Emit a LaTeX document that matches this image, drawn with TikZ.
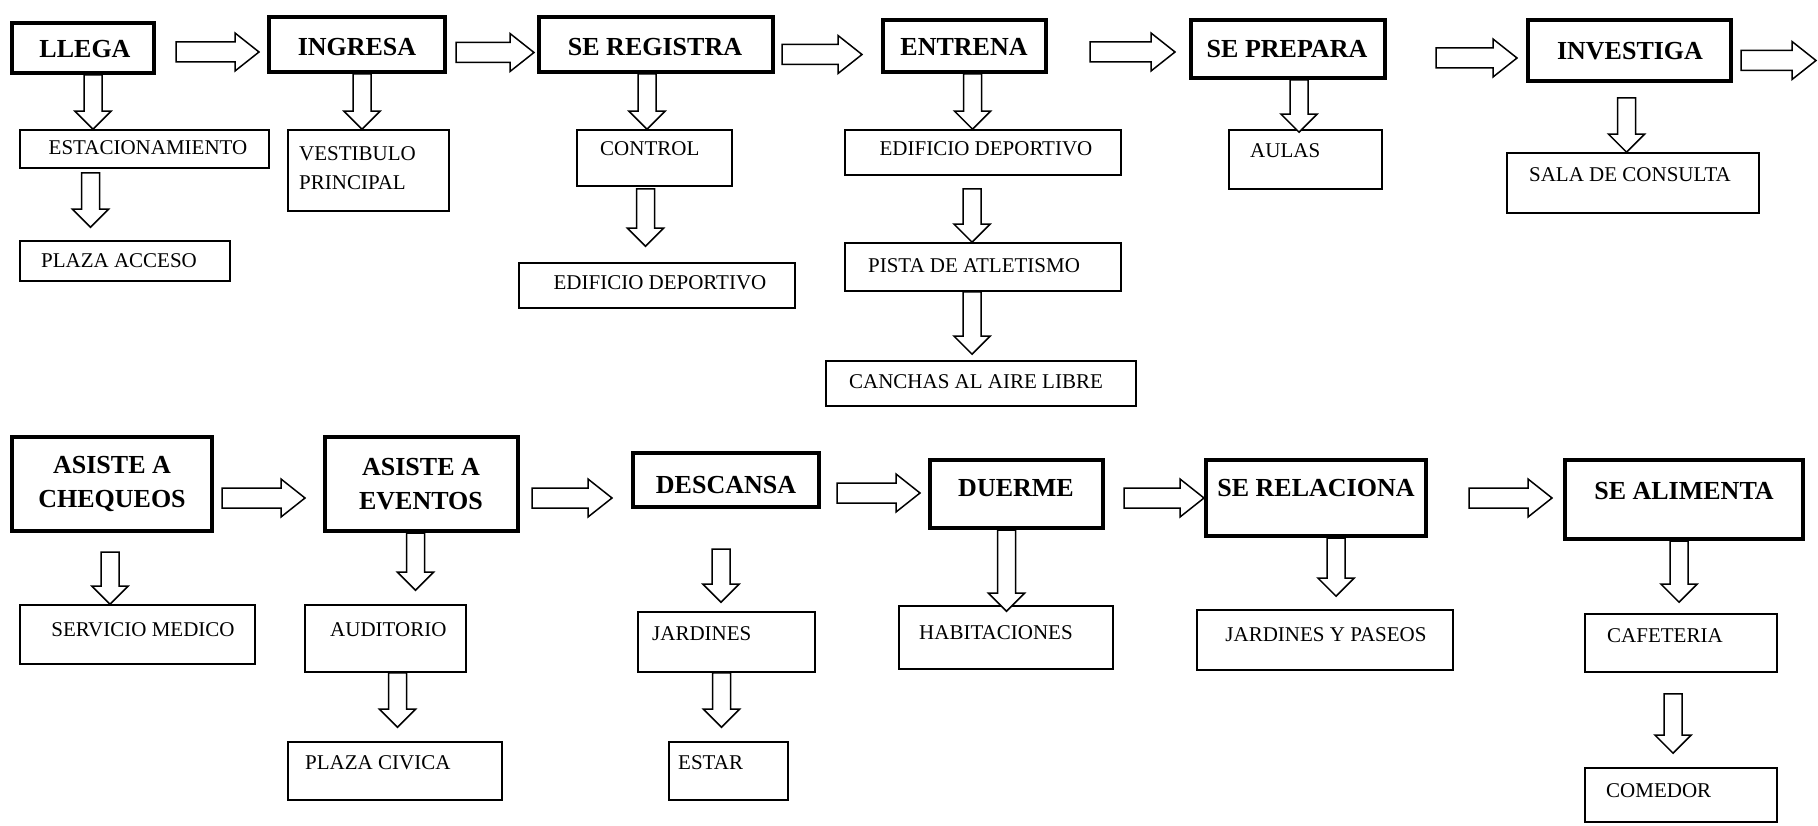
\documentclass[tikz,border=0pt]{standalone}
\usepackage{fontspec}
\setmainfont{Liberation Serif}
\usetikzlibrary{calc}

% Looks of the flow chart
\tikzset{
  headbox/.style={draw=black, line width=4pt, rectangle, inner sep=0pt},
  placebox/.style={draw=black, line width=1.6pt, rectangle, inner sep=0pt},
  headtext/.style={font=\fontsize{26}{34}\selectfont\bfseries, inner sep=0pt, align=center},
  placetext/.style={font=\fontsize{21}{29}\selectfont, inner sep=0pt},
  blockarrow/.style={draw=black, line width=1.5pt, fill=white, line join=miter},
}

% \areabox{style}{name}{x1}{y1}{x2}{y2}: empty box spanning two corners
\newcommand\areabox[6]{%
  \node[#1, minimum width={(#5-#3)*1pt}, minimum height={(#6-#4)*1pt}]
    (#2) at ({(#3+#5)/2},{(#4+#6)/2}) {};}

% Hollow block arrow pointing down: vertical at the x of #1, tip at the height of #2
\newcommand\downblock[2]{%
  \draw[blockarrow] let \p1=(#1), \p2=(#2) in
    (\x1-9pt,\y1) -- (\x1+9pt,\y1) -- (\x1+9pt,\y2+18pt) -- (\x1+18pt,\y2+18pt)
    -- (\x1,\y2) -- (\x1-18pt,\y2+18pt) -- (\x1-9pt,\y2+18pt) -- cycle;}

% Hollow block arrow pointing right: at the height of #1, tip at the x of #2
\newcommand\rightblock[2]{%
  \draw[blockarrow] let \p1=(#1), \p2=(#2) in
    (\x1,\y1+10pt) -- (\x2-24pt,\y1+10pt) -- (\x2-24pt,\y1+19pt) -- (\x2,\y1)
    -- (\x2-24pt,\y1-19pt) -- (\x2-24pt,\y1-10pt) -- (\x1,\y1-10pt) -- cycle;}

\begin{document}
\begin{tikzpicture}[x=1pt,y=-1pt]
\fill[white] (0,0) rectangle (1818,826);
\useasboundingbox (0,0) rectangle (1818,826);

% ---------- first row: activities ----------
\areabox{headbox}{llega}{12}{23}{154}{73}
\areabox{headbox}{ingresa}{269}{17}{445}{72}
\areabox{headbox}{registra}{539}{17}{773}{72}
\areabox{headbox}{entrena}{883}{20}{1046}{72}
\areabox{headbox}{prepara}{1191}{20}{1385}{78}
\areabox{headbox}{investiga}{1528}{20}{1731}{81}
\coordinate (next) at (1816,60);

\node[headtext, anchor=base] (t-llega) at (85,58) {LLEGA};
\node[headtext, anchor=base] (t-ingresa) at (357,56) {INGRESA};
\node[headtext, anchor=base] (t-registra) at (655,56) {SE REGISTRA};
\node[headtext, anchor=base] (t-entrena) at (964,56) {ENTRENA};
\node[headtext, anchor=base] (t-prepara) at (1287,58) {SE PREPARA};
\node[headtext, anchor=base] (t-investiga) at (1630,60) {INVESTIGA};

% ---------- first row: places ----------
\areabox{placebox}{estac}{20}{130}{269}{168}
\areabox{placebox}{plazaacc}{20}{241}{230}{281}
\areabox{placebox}{vestibulo}{288}{130}{449}{211}
\areabox{placebox}{control}{577}{130}{732}{186}
\areabox{placebox}{edifa}{519}{263}{795}{308}
\areabox{placebox}{edifb}{845}{130}{1121}{175}
\areabox{placebox}{pista}{845}{243}{1121}{291}
\areabox{placebox}{canchas}{826}{361}{1136}{406}
\areabox{placebox}{aulas}{1229}{130}{1382}{189}
\areabox{placebox}{consulta}{1507}{153}{1759}{213}

\node[placetext, anchor=base] (t-estac) at (148,155) {ESTACIONAMIENTO};
\node[placetext, anchor=base] (t-plazaacc) at (119,268) {PLAZA ACCESO};
\node[placetext, anchor=base west] (t-vest1) at (299,161) {VESTIBULO};
\node[placetext, anchor=base west] (t-vest2) at (299,190) {PRINCIPAL};
\node[placetext, anchor=base west] (t-control) at (600,156) {CONTROL};
\node[placetext, anchor=base] (t-edifa) at (660,290) {EDIFICIO DEPORTIVO};
\node[placetext, anchor=base] (t-edifb) at (986,156) {EDIFICIO DEPORTIVO};
\node[placetext, anchor=base] (t-pista) at (974,273) {PISTA DE ATLETISMO};
\node[placetext, anchor=base] (t-canchas) at (976,388) {CANCHAS AL AIRE LIBRE};
\node[placetext, anchor=base west] (t-aulas) at (1250,158) {AULAS};
\node[placetext, anchor=base] (t-consulta) at (1630,182) {SALA DE CONSULTA};

% ---------- first row: arrows ----------
\rightblock{$(llega.east)+(20,4)$}{$(ingresa.west)+(-8,0)$}
\rightblock{$(ingresa.east)+(9,8)$}{$(registra.west)+(-3,0)$}
\rightblock{$(registra.east)+(7,10)$}{$(entrena.west)+(-19,0)$}
\rightblock{$(entrena.east)+(42,6)$}{$(prepara.west)+(-14,0)$}
\rightblock{$(prepara.east)+(49,9)$}{$(investiga.west)+(-9,0)$}
\rightblock{$(investiga.east)+(8,10)$}{next}

\downblock{$(llega.south)+(10,0)$}{estac.north}
\downblock{$(estac.south)+(-54,4)$}{$(plazaacc.north)+(0,-13)$}
\downblock{$(ingresa.south)+(5,0)$}{vestibulo.north}
\downblock{$(registra.south)+(-9,0)$}{control.north}
\downblock{$(control.south)+(-9,2)$}{$(edifa.north)+(0,-16)$}
\downblock{$(entrena.south)+(8,0)$}{edifb.north}
\downblock{$(edifb.south)+(-11,13)$}{pista.north}
\downblock{$(pista.south)+(-11,0)$}{$(canchas.north)+(0,-6)$}
\downblock{$(prepara.south)+(11,0)$}{$(aulas.north)+(0,3)$}
\downblock{$(investiga.south)+(-3,15)$}{consulta.north}

% ---------- second row: activities ----------
\areabox{headbox}{chequeos}{12}{437}{212}{531}
\areabox{headbox}{eventos}{325}{437}{518}{531}
\areabox{headbox}{descansa}{633}{453}{819}{507}
\areabox{headbox}{duerme}{930}{460}{1103}{528}
\areabox{headbox}{relaciona}{1206}{460}{1426}{536}
\areabox{headbox}{alimenta}{1565}{460}{1803}{539}

\node[headtext] (t-chequeos) at (112,484) {ASISTE A\\CHEQUEOS};
\node[headtext] (t-eventos) at (421,484) {ASISTE A\\EVENTOS};
\node[headtext, anchor=base] (t-descansa) at (726,493) {DESCANSA};
\node[headtext, anchor=base] (t-duerme) at (1016,496) {DUERME};
\node[headtext, anchor=base] (t-relaciona) at (1316,496) {SE RELACIONA};
\node[headtext, anchor=base] (t-alimenta) at (1684,499) {SE ALIMENTA};

% ---------- second row: places ----------
\areabox{placebox}{servicio}{20}{605}{255}{664}
\areabox{placebox}{auditorio}{305}{605}{466}{672}
\areabox{placebox}{civica}{288}{742}{502}{800}
\areabox{placebox}{jardines}{638}{612}{815}{672}
\areabox{placebox}{estar}{669}{742}{788}{800}
\areabox{placebox}{habitaciones}{899}{606}{1113}{669}
\areabox{placebox}{paseos}{1197}{610}{1453}{670}
\areabox{placebox}{cafeteria}{1585}{614}{1777}{672}
\areabox{placebox}{comedor}{1585}{768}{1777}{822}

\node[placetext, anchor=base] (t-servicio) at (143,636) {SERVICIO MEDICO};
\node[placetext, anchor=base west] (t-auditorio) at (330,636) {AUDITORIO};
\node[placetext, anchor=base west] (t-civica) at (305,769) {PLAZA CIVICA};
\node[placetext, anchor=base west] (t-jardines) at (652,640) {JARDINES};
\node[placetext, anchor=base west] (t-estar) at (678,769) {ESTAR};
\node[placetext, anchor=base west] (t-habitaciones) at (919,639) {HABITACIONES};
\node[placetext, anchor=base] (t-paseos) at (1326,641) {JARDINES Y PASEOS};
\node[placetext, anchor=base west] (t-cafeteria) at (1607,642) {CAFETERIA};
\node[placetext, anchor=base west] (t-comedor) at (1606,797) {COMEDOR};

% ---------- second row: arrows ----------
\rightblock{$(chequeos.east)+(8,14)$}{$(eventos.west)+(-18,0)$}
\rightblock{$(eventos.east)+(12,14)$}{$(descansa.west)+(-19,0)$}
\rightblock{$(descansa.east)+(16,13)$}{$(duerme.west)+(-8,0)$}
\rightblock{$(duerme.east)+(19,4)$}{$(relaciona.west)+(0,0)$}
\rightblock{$(relaciona.east)+(41,0)$}{$(alimenta.west)+(-11,0)$}

\downblock{$(chequeos.south)+(-2,19)$}{servicio.north}
\downblock{$(eventos.south)+(-6,0)$}{$(auditorio.north)+(0,-14)$}
\downblock{$(auditorio.south)+(12,0)$}{$(civica.north)+(0,-14)$}
\downblock{$(descansa.south)+(-5,40)$}{$(jardines.north)+(0,-9)$}
\downblock{$(jardines.south)+(-5,0)$}{$(estar.north)+(0,-14)$}
\downblock{$(duerme.south)+(-10,0)$}{$(habitaciones.north)+(0,6)$}
\downblock{$(relaciona.south)+(20,0)$}{$(paseos.north)+(0,-13)$}
\downblock{$(alimenta.south)+(-5,0)$}{$(cafeteria.north)+(0,-11)$}
\downblock{$(cafeteria.south)+(-8,21)$}{$(comedor.north)+(0,-14)$}
\end{tikzpicture}
\end{document}
